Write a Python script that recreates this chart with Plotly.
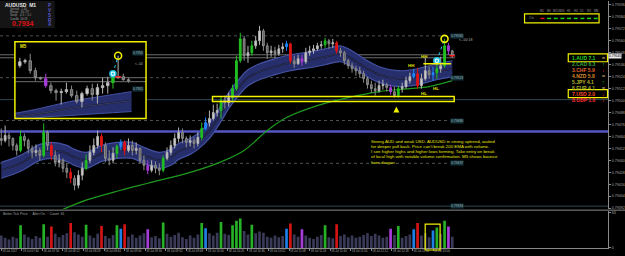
import plotly.graph_objects as go
from datetime import datetime, timedelta

# ======================= DATA =======================
symbol = "AUDUSD"
timeframe = "M1"
bar_start = datetime(2017, 7, 18, 7, 24)
bar_step_min = 3

first_open = 0.79462
close = [
    0.79460, 0.79465, 0.79462, 0.79455, 0.79450, 0.79464, 0.79460, 0.79452, 0.79448, 0.79450,
    0.79445, 0.79468, 0.79455, 0.79445, 0.79438, 0.79440, 0.79432, 0.79428, 0.79422, 0.79415,
    0.79425, 0.79432, 0.79440, 0.79448, 0.79455, 0.79464, 0.79455, 0.79442, 0.79440, 0.79447,
    0.79454, 0.79458, 0.79450, 0.79455, 0.79450, 0.79452, 0.79440, 0.79435, 0.79430, 0.79435,
    0.79432, 0.79430, 0.79442, 0.79448, 0.79455, 0.79462, 0.79468, 0.79462, 0.79458, 0.79460,
    0.79457, 0.79463, 0.79472, 0.79478, 0.79482, 0.79488, 0.79490, 0.79500, 0.79498, 0.79503,
    0.79512, 0.79540, 0.79562, 0.79545, 0.79548, 0.79555, 0.79560, 0.79570, 0.79555, 0.79548,
    0.79550, 0.79547, 0.79552, 0.79554, 0.79557, 0.79540, 0.79537, 0.79542, 0.79539, 0.79548,
    0.79550, 0.79552, 0.79555, 0.79556, 0.79560, 0.79557, 0.79558, 0.79550, 0.79548, 0.79540,
    0.79535, 0.79532, 0.79530, 0.79527, 0.79522, 0.79516, 0.79512, 0.79510, 0.79515, 0.79516,
    0.79513, 0.79509, 0.79505, 0.79512, 0.79514, 0.79520, 0.79524, 0.79527, 0.79515, 0.79522,
    0.79530, 0.79526, 0.79528, 0.79532, 0.79535, 0.79555, 0.79550, 0.79545]
high = [
    0.79472, 0.79475, 0.79468, 0.79463, 0.79457, 0.79470, 0.79467, 0.79462, 0.79455, 0.79456,
    0.79453, 0.79477, 0.79470, 0.79458, 0.79450, 0.79446, 0.79442, 0.79437, 0.79432, 0.79425,
    0.79430, 0.79438, 0.79446, 0.79455, 0.79462, 0.79470, 0.79467, 0.79458, 0.79450, 0.79453,
    0.79456, 0.79461, 0.79460, 0.79462, 0.79460, 0.79458, 0.79453, 0.79445, 0.79440, 0.79440,
    0.79439, 0.79437, 0.79445, 0.79453, 0.79460, 0.79467, 0.79473, 0.79472, 0.79464, 0.79465,
    0.79463, 0.79468, 0.79478, 0.79483, 0.79490, 0.79496, 0.79497, 0.79504, 0.79505, 0.79508,
    0.79516, 0.79545, 0.79568, 0.79565, 0.79555, 0.79560, 0.79565, 0.79575, 0.79572, 0.79558,
    0.79555, 0.79554, 0.79556, 0.79558, 0.79560, 0.79558, 0.79545, 0.79546, 0.79546, 0.79553,
    0.79555, 0.79556, 0.79558, 0.79560, 0.79563, 0.79562, 0.79562, 0.79560, 0.79553, 0.79550,
    0.79542, 0.79538, 0.79535, 0.79534, 0.79530, 0.79524, 0.79520, 0.79518, 0.79520, 0.79521,
    0.79518, 0.79516, 0.79514, 0.79515, 0.79518, 0.79524, 0.79528, 0.79532, 0.79533, 0.79527,
    0.79543, 0.79534, 0.79534, 0.79540, 0.79544, 0.79562, 0.79558, 0.79551]
low = [
    0.79455, 0.79458, 0.79454, 0.79450, 0.79445, 0.79448, 0.79454, 0.79447, 0.79442, 0.79444,
    0.79440, 0.79443, 0.79450, 0.79440, 0.79434, 0.79433, 0.79428, 0.79422, 0.79417, 0.79410,
    0.79412, 0.79420, 0.79430, 0.79437, 0.79445, 0.79452, 0.79448, 0.79438, 0.79435, 0.79437,
    0.79442, 0.79450, 0.79445, 0.79448, 0.79445, 0.79446, 0.79437, 0.79430, 0.79426, 0.79428,
    0.79427, 0.79425, 0.79428, 0.79440, 0.79445, 0.79452, 0.79458, 0.79457, 0.79453, 0.79454,
    0.79452, 0.79454, 0.79460, 0.79470, 0.79474, 0.79480, 0.79484, 0.79482, 0.79492, 0.79494,
    0.79500, 0.79510, 0.79538, 0.79540, 0.79538, 0.79545, 0.79552, 0.79556, 0.79550, 0.79542,
    0.79544, 0.79543, 0.79545, 0.79548, 0.79550, 0.79537, 0.79533, 0.79536, 0.79535, 0.79537,
    0.79545, 0.79547, 0.79550, 0.79552, 0.79553, 0.79552, 0.79553, 0.79547, 0.79544, 0.79536,
    0.79532, 0.79528, 0.79525, 0.79523, 0.79518, 0.79512, 0.79508, 0.79505, 0.79508, 0.79511,
    0.79509, 0.79506, 0.79503, 0.79503, 0.79508, 0.79512, 0.79517, 0.79522, 0.79512, 0.79512,
    0.79520, 0.79522, 0.79520, 0.79522, 0.79528, 0.79533, 0.79546, 0.79543]
# PVSRA class of each bar: n normal, g bull climax, r bear climax, b bull rising, m bear rising
bar_type = list("nnnnngnnnn" "ngnrnnnnrn" "nngnnnrnnn" "gbrnnnnnmn" "nngnnnnnnn"
                "nngbnnngnn" "gggnngnnnn" "nnnnbrnnmn" "nnnngnnrnn" "nnnnnnnnnn"
                "nmngnnnbrn" "nnbgngmn")
volume = [
    22, 18, 15, 20, 17, 40, 24, 19, 16, 21,
    18, 42, 20, 38, 25, 19, 23, 26, 44, 28,
    24, 20, 41, 22, 18, 25, 39, 21, 17, 23,
    40, 34, 42, 20, 24, 18, 22, 26, 33, 19,
    21, 17, 45, 25, 20, 23, 27, 19, 16, 22,
    18, 24, 44, 35, 26, 22, 27, 46, 25, 23,
    40, 48, 52, 30, 24, 41, 26, 29, 27, 20,
    18, 22, 19, 21, 34, 43, 24, 20, 33, 22,
    18, 16, 20, 23, 40, 19, 17, 42, 21, 24,
    19, 22, 18, 20, 23, 26, 21, 25, 22, 18,
    20, 34, 23, 39, 18, 21, 24, 33, 44, 22,
    26, 19, 31, 36, 25, 48, 38, 20]

dragon_bar = [0, 5, 10, 13, 17, 19, 22, 26, 30, 34, 37, 41, 44, 46, 49, 51, 54, 57, 59, 62,
              64, 67, 71, 75, 80, 84, 88, 90, 93, 95, 98, 103, 108, 111, 113, 117]
dragon_high = [0.79438, 0.79445, 0.79456, 0.79458, 0.79455, 0.79451, 0.79448, 0.79455, 0.79458, 0.79458,
               0.79453, 0.79448, 0.79451, 0.79457, 0.79462, 0.79467, 0.79478, 0.79495, 0.79508, 0.79523,
               0.79531, 0.79537, 0.79542, 0.79546, 0.79549, 0.79552, 0.79555, 0.79552, 0.79545, 0.79540,
               0.79534, 0.79530, 0.79532, 0.79535, 0.79537, 0.79540]
dragon_mid = [0.79430, 0.79437, 0.79448, 0.79450, 0.79447, 0.79443, 0.79440, 0.79447, 0.79450, 0.79450,
              0.79445, 0.79440, 0.79443, 0.79449, 0.79454, 0.79459, 0.79470, 0.79487, 0.79500, 0.79515,
              0.79523, 0.79529, 0.79534, 0.79538, 0.79541, 0.79544, 0.79547, 0.79544, 0.79537, 0.79532,
              0.79526, 0.79522, 0.79524, 0.79527, 0.79529, 0.79532]
dragon_low = [0.79422, 0.79429, 0.79440, 0.79442, 0.79439, 0.79435, 0.79432, 0.79439, 0.79442, 0.79442,
              0.79437, 0.79432, 0.79435, 0.79441, 0.79446, 0.79451, 0.79462, 0.79479, 0.79492, 0.79507,
              0.79515, 0.79521, 0.79526, 0.79530, 0.79533, 0.79536, 0.79539, 0.79536, 0.79529, 0.79524,
              0.79518, 0.79514, 0.79516, 0.79519, 0.79521, 0.79524]

ema_bar = [15, 22, 31, 38, 49, 56, 63, 69, 74, 82, 90, 98, 106, 111, 117]
ema200 = [0.79389, 0.79400, 0.79410, 0.79417, 0.79428, 0.79437, 0.79450, 0.79470,
          0.79483, 0.79495, 0.79503, 0.79509, 0.79512, 0.79514, 0.79520]

sr_levels = [0.79565, 0.79523, 0.79480, 0.79437]
bottom_level = 0.79394
zone_level = 0.79501
zone_top, zone_bottom = 0.79504, 0.79499
round_level = 0.79469
swing_levels = [0.79546, 0.79543]
break_level = 0.79537

entry_bar, entry_price = 113, 0.79540
peak_bar, peak_price = 115, 0.79562
signal_bar, signal_price = 102.5, 0.79494
structure_text = ["HH", "HH", "HL", "HL"]
structure_bar = [109.7, 106.4, 109.7, 112.8]
structure_price = [0.79544, 0.79535, 0.79507, 0.79512]

time_labels = ["18 Jul 2017", "18 Jul 07:40", "18 Jul 07:56", "18 Jul 08:12", "18 Jul 08:28",
               "18 Jul 08:44", "18 Jul 09:00", "18 Jul 09:16", "18 Jul 09:32", "18 Jul 09:48",
               "18 Jul 10:04", "18 Jul 10:20", "18 Jul 10:36", "18 Jul 10:52", "18 Jul 11:08",
               "18 Jul 11:24", "18 Jul 11:40", "18 Jul 11:56", "18 Jul 12:12", "18 Jul 12:28",
               "18 Jul 12:44", "18 Jul 13:00"]

# M5 inset
inset_first_open = 0.79535
inset_close = [0.79539, 0.79540, 0.79530, 0.79523, 0.79522, 0.79515, 0.79510, 0.79508, 0.79509, 0.79511,
               0.79505, 0.79499, 0.79507, 0.79512, 0.79506, 0.79513, 0.79515, 0.79518, 0.79523, 0.79524,
               0.79521, 0.79520]
inset_high = [0.79543, 0.79542, 0.79547, 0.79533, 0.79524, 0.79527, 0.79518, 0.79512, 0.79512, 0.79518,
              0.79515, 0.79510, 0.79509, 0.79515, 0.79517, 0.79517, 0.79523, 0.79524, 0.79527, 0.79545,
              0.79527, 0.79523]
inset_low = [0.79533, 0.79537, 0.79527, 0.79520, 0.79521, 0.79513, 0.79507, 0.79500, 0.79496, 0.79507,
             0.79503, 0.79497, 0.79493, 0.79505, 0.79500, 0.79497, 0.79507, 0.79507, 0.79512, 0.79522,
             0.79520, 0.79518]
inset_type = list("nnnnnmnnnnnnnnnnnngnnn")
inset_band_x = [-1.2, 3.8, 9.6, 15.4, 21.6]
inset_band_high = [0.79487, 0.79492, 0.79499, 0.79504, 0.79509]
inset_band_mid = [0.79484, 0.79487, 0.79492, 0.79496, 0.79500]
inset_band_low = [0.79478, 0.79483, 0.79485, 0.79487, 0.79489]
inset_levels = [0.79523, 0.79519]
inset_entry = (18, 0.79527)
inset_peak = (19, 0.79545)

strength_ccy = ["AUD", "CAD", "CHF", "NZD", "JPY", "EUR", "USD", "GBP"]
strength_val = [7.1, 6.3, 5.9, 5.8, 4.1, 4.1, 2.0, 1.0]
strength_dir = ["flat", "up", "down", "flat", "up", "flat", "down", "down"]
strength_col = ["#27d427", "#3aa83a", "#e0662a", "#d98a2a", "#b8b82a", "#a9b02e", "#ff4a2a", "#ff2a2a"]
tf_names = ["M1", "M5", "M15", "M30", "H1", "H4", "D1", "W1", "MN"]
tf_signal = ["down", "up", "up", "up", "up", "up", "up", "up", "up"]

text_block = ["Strong AUD and weak USD. AUDUSD in strong uptrend, waited",
              "for deeper pull back. Price can't break 200 EMA with volume.",
              "I see higher highs and higher lows forming. Take entry on break",
              "of local high with notable volume confirmation. M5 shows bounce",
              "from dragon."]

# ======================= FIGURE =======================
FONT = "Liberation Sans"
W, H = 625, 256
MR, MB = 13, 8
PW, PH = W - MR, H - MB


def t(i):
    return bar_start + timedelta(minutes=bar_step_min * i)


def px(xp):
    return xp / PW


def py(yp):
    return 1 - yp / PH


bar_time = [t(i) for i in range(len(close))]
open_ = [first_open] + close[:-1]
x_range = [t(-1 / 3), t(157.4)]
y_range = [0.79391, 0.79600]

fig = go.Figure()

# ---- base layer (x, y): dragon band + EMA ----
dx = [t(i) for i in dragon_bar]
fig.add_trace(go.Scatter(x=dx, y=dragon_high, mode="lines", line=dict(color="#4452a4", width=1.2, shape="spline"),
                         xaxis="x", yaxis="y", hoverinfo="skip"))
fig.add_trace(go.Scatter(x=dx, y=dragon_low, mode="lines", line=dict(color="#4452a4", width=1.2, shape="spline"),
                         fill="tonexty", fillcolor="#272e6c", xaxis="x", yaxis="y", hoverinfo="skip"))
fig.add_trace(go.Scatter(x=dx, y=dragon_mid, mode="lines", line=dict(color="#0e1128", width=1.6, shape="spline"),
                         xaxis="x", yaxis="y", hoverinfo="skip"))
fig.add_trace(go.Scatter(x=dx, y=dragon_mid, mode="lines", line=dict(color="#6a70a0", width=0.4, shape="spline"),
                         xaxis="x", yaxis="y", hoverinfo="skip"))
fig.add_trace(go.Scatter(x=[t(i) for i in ema_bar], y=ema200, mode="lines",
                         line=dict(color="#1f9a1f", width=1.2, shape="spline"), xaxis="x", yaxis="y", hoverinfo="skip"))

# ---- overlay layer (x, y4): candles + signals ----
styles = {
    "n": ("#d6d6d6", "#b4b4b4", "#5a5a5a", "#8c8c8c"),
    "g": ("#22c022", "#22c022", "#22c022", "#22c022"),
    "r": ("#e01414", "#e01414", "#e01414", "#e01414"),
    "b": ("#1f86ff", "#1f86ff", "#1f86ff", "#1f86ff"),
    "m": ("#a83cd8", "#a83cd8", "#a83cd8", "#a83cd8"),
}


def masked(vals, types, code):
    return [v if tp == code else None for v, tp in zip(vals, types)]


for code, (ifill, iline, dfill, dline) in styles.items():
    fig.add_trace(go.Candlestick(
        x=bar_time, open=masked(open_, bar_type, code), high=masked(high, bar_type, code),
        low=masked(low, bar_type, code), close=masked(close, bar_type, code),
        increasing=dict(fillcolor=ifill, line=dict(color=iline, width=1)),
        decreasing=dict(fillcolor=dfill, line=dict(color=dline, width=1)),
        whiskerwidth=0, xaxis="x", yaxis="y4", hoverinfo="skip"))

fig.add_trace(go.Scatter(x=[t(entry_bar), t(peak_bar)], y=[entry_price, peak_price], mode="lines",
                         line=dict(color="#22c8e8", width=1, dash="dot"), xaxis="x", yaxis="y4"))
fig.add_trace(go.Scatter(x=[t(entry_bar)], y=[entry_price], mode="markers",
                         marker=dict(symbol="circle-dot", size=6, color="white", line=dict(color="#22c8e8", width=1.5)),
                         xaxis="x", yaxis="y4"))
fig.add_trace(go.Scatter(x=[t(peak_bar)], y=[peak_price], mode="markers",
                         marker=dict(symbol="circle-open", size=7, color="#f0f000", line=dict(width=1.6)),
                         xaxis="x", yaxis="y4"))
fig.add_trace(go.Scatter(x=[t(signal_bar)], y=[signal_price], mode="markers",
                         marker=dict(symbol="arrow-up", size=6, color="#f0f000"), xaxis="x", yaxis="y4"))
fig.add_trace(go.Scatter(x=[bar_time[-1]], y=[close[-1]], mode="markers",
                         marker=dict(symbol="line-ew", size=4, line=dict(color="#ff2020", width=1.5)),
                         xaxis="x", yaxis="y4"))

# ---- volume ----
vol_col = {"n": "#3a3957", "g": "#25b025", "r": "#d41414", "b": "#1e7fe6", "m": "#a83cd8"}
fig.add_trace(go.Bar(x=bar_time, y=volume, marker=dict(color=[vol_col[c] for c in bar_type], line=dict(width=0)),
                     xaxis="x2", yaxis="y2", hoverinfo="skip"))

# ---- M5 inset (x3, y3 base; y5 overlay) ----
ix_range = [-0.96, 24.4]
iy_range = [0.79482, 0.79559]
fig.add_trace(go.Bar(x=[(ix_range[0] + ix_range[1]) / 2], y=[iy_range[1] - iy_range[0] + 0.0001],
                     base=[iy_range[0] - 0.00005], width=[ix_range[1] - ix_range[0] + 1],
                     marker=dict(color="black", line=dict(width=0)), xaxis="x3", yaxis="y3", hoverinfo="skip"))
for lv in inset_levels:
    fig.add_trace(go.Scatter(x=ix_range, y=[lv, lv], mode="lines", line=dict(color="#6e6e6e", width=1),
                             xaxis="x3", yaxis="y3", hoverinfo="skip"))
fig.add_trace(go.Scatter(x=inset_band_x, y=inset_band_high, mode="lines", line=dict(color="#4452a4", width=1, shape="spline"),
                         xaxis="x3", yaxis="y3"))
fig.add_trace(go.Scatter(x=inset_band_x, y=inset_band_low, mode="lines", line=dict(color="#4452a4", width=1, shape="spline"),
                         fill="tonexty", fillcolor="#272e6c", xaxis="x3", yaxis="y3"))
fig.add_trace(go.Scatter(x=inset_band_x, y=inset_band_mid, mode="lines", line=dict(color="#0e1128", width=1.5, shape="spline"),
                         xaxis="x3", yaxis="y3"))
fig.add_trace(go.Scatter(x=inset_band_x, y=inset_band_mid, mode="lines", line=dict(color="#8088b0", width=0.4, shape="spline"),
                         xaxis="x3", yaxis="y3"))
ix = list(range(len(inset_close)))
inset_open = [inset_first_open] + inset_close[:-1]
for code, (ifill, iline, dfill, dline) in styles.items():
    if code not in inset_type:
        continue
    fig.add_trace(go.Candlestick(
        x=ix, open=masked(inset_open, inset_type, code), high=masked(inset_high, inset_type, code),
        low=masked(inset_low, inset_type, code), close=masked(inset_close, inset_type, code),
        increasing=dict(fillcolor=ifill, line=dict(color=iline, width=1)),
        decreasing=dict(fillcolor=dfill, line=dict(color=dline, width=1)),
        whiskerwidth=0, xaxis="x3", yaxis="y5", hoverinfo="skip"))
fig.add_trace(go.Scatter(x=[inset_entry[0], inset_peak[0]], y=[inset_entry[1], inset_peak[1]], mode="lines",
                         line=dict(color="#22c8e8", width=1, dash="dot"), xaxis="x3", yaxis="y5"))
fig.add_trace(go.Scatter(x=[inset_entry[0]], y=[inset_entry[1]], mode="markers",
                         marker=dict(symbol="circle-dot", size=6, color="white", line=dict(color="#22c8e8", width=1.5)),
                         xaxis="x3", yaxis="y5"))
fig.add_trace(go.Scatter(x=[inset_peak[0]], y=[inset_peak[1]], mode="markers",
                         marker=dict(symbol="circle-open", size=7, color="#f0f000", line=dict(width=1.6)),
                         xaxis="x3", yaxis="y5"))
fig.add_trace(go.Scatter(x=[inset_peak[0]], y=[inset_close[inset_peak[0]]], mode="markers",
                         marker=dict(symbol="line-ew", size=4, line=dict(color="#ff2020", width=1.5)),
                         xaxis="x3", yaxis="y5"))

# ---------- shapes ----------
shapes = []
x_lab = t((453 / PW * (157.4 + 1 / 3)) - 1 / 3)  # start of level label boxes
for lv in sr_levels:
    shapes.append(dict(type="line", xref="x", yref="y", x0=x_range[0], x1=x_lab, y0=lv, y1=lv,
                       line=dict(color="#4a5257", width=1, dash="dot"), layer="below"))
shapes.append(dict(type="line", xref="paper", yref="y", x0=0, x1=1, y0=bottom_level, y1=bottom_level,
                   line=dict(color="#2c4653", width=1), layer="below"))
shapes.append(dict(type="line", xref="paper", yref="y", x0=0, x1=1, y0=zone_level, y1=zone_level,
                   line=dict(color="#2c4653", width=1), layer="below"))
shapes.append(dict(type="line", xref="paper", yref="y", x0=0, x1=1, y0=round_level, y1=round_level,
                   line=dict(color="#5656c4", width=2.4), layer="below"))
for lv in swing_levels:
    shapes.append(dict(type="line", xref="x", yref="y", x0=x_range[0], x1=t(117.7), y0=lv, y1=lv,
                       line=dict(color="#6c6c6c", width=1), layer="below"))
shapes.append(dict(type="rect", xref="x", yref="y", x0=t(54.8), x1=t(117.5), y0=zone_bottom, y1=zone_top,
                   line=dict(color="#f2f200", width=1.5)))
shapes.append(dict(type="line", xref="x", yref="y", x0=t(109.5), x1=t(116.7), y0=break_level, y1=break_level,
                   line=dict(color="#f2f200", width=1.5)))
shapes.append(dict(type="line", xref="paper", yref="paper", x0=0, x1=1.03, y0=py(210), y1=py(210),
                   line=dict(color="#8a8a8a", width=1)))
shapes.append(dict(type="rect", xref="paper", yref="paper", x0=px(15), x1=px(147), y0=py(118), y1=py(41),
                   line=dict(color="#f2f200", width=1.5)))
shapes.append(dict(type="rect", xref="paper", yref="paper", x0=px(428), x1=px(443), y0=py(250), y1=py(224),
                   line=dict(color="#f2f200", width=1.2)))
shapes.append(dict(type="rect", xref="paper", yref="paper", x0=0, x1=px(55), y0=py(27), y1=1,
                   fillcolor="#151515", line=dict(width=0), layer="below"))
for row in (0, 6):
    yc = 57 + 6 * row
    shapes.append(dict(type="rect", xref="paper", yref="paper", x0=px(572), x1=px(611.5),
                       y0=py(yc + 4), y1=py(yc - 4), line=dict(color="#f2f200", width=1.2)))
shapes.append(dict(type="rect", xref="paper", yref="paper", x0=px(528), x1=px(603), y0=py(22), y1=py(13),
                   line=dict(color="#f2f200", width=1.2)))
for k, sig in enumerate(tf_signal):
    x0 = 544 + 6.7 * k
    shapes.append(dict(type="line", xref="paper", yref="paper", x0=px(x0), x1=px(x0 + 4), y0=py(17.5), y1=py(17.5),
                       line=dict(color="#e01010" if sig == "down" else "#18d018", width=1.5)))

# ---------- annotations ----------
ann = []


def note(xp, yp, text, size=3.6, color="#a0a0a0", xanchor="left", yanchor="middle", bg=None, bold=False):
    d = dict(x=px(xp), y=py(yp), xref="paper", yref="paper", text=("<b>%s</b>" % text) if bold else text,
             showarrow=False, xanchor=xanchor, yanchor=yanchor, borderpad=0,
             font=dict(size=size, color=color, family=FONT))
    if bg:
        d["bgcolor"] = bg
    ann.append(d)


note(4, 4, "%s  %s" % (symbol, timeframe), size=5, color="#e8e8e8", bold=True)
for k, line in enumerate(["Spread   1.40", "Range   36 / 87", "Swap   -0.3 / -0.1", "Candle  00:18"]):
    note(9, 8 + 3.2 * k, line, size=2.8, color="#9a9a9a")
note(11, 23, "0.7934", size=7, color="#e01010", bold=True)
for k, ch in enumerate("PVSRA"):
    note(50, 5 + 4.7 * k, ch, size=4.5, color="#5b5bd6", xanchor="center", bold=True)

for lv in sr_levels + [bottom_level]:
    ann.append(dict(x=x_lab, y=lv, xref="x", yref="y", text="%.5f" % lv, showarrow=False, xanchor="left",
                    yanchor="middle", bgcolor="#14323a", borderpad=0,
                    font=dict(size=3.4, color="#9fb4b8", family=FONT)))
note(461, 39, "&lt;--00:18", size=3.6, color="#b0b0b0")

for txt, b, p in zip(structure_text, structure_bar, structure_price):
    ann.append(dict(x=t(b), y=p, xref="x", yref="y", text="<b>%s</b>" % txt, showarrow=False,
                    font=dict(size=4.4, color="#e8e800", family=FONT)))

for k, line in enumerate(text_block):
    note(372, 141 + 5.2 * k, line, size=4.4, color="#e6e600")

note(19, 46, "M5", size=4.5, color="#e8e800", bold=True)
note(133, 52, "0.7955", size=3.2, color="#9fb4b8", bg="#14323a")
note(133, 88, "0.7951", size=3.2, color="#9fb4b8", bg="#14323a")
note(135, 63, "&lt;--04", size=3.2, color="#b0b0b0")

arrow_txt = {"up": "\u2191", "down": "\u2193", "flat": "\u2248"}
arrow_col = {"up": "#20d020", "down": "#ff2020", "flat": "#c8b070"}
for k, (c, v, d, col) in enumerate(zip(strength_ccy, strength_val, strength_dir, strength_col)):
    yc = 57 + 6 * k
    note(575, yc, "%d.%s %.1f" % (k + 1, c, v), size=5, color=col, bold=True)
    note(607, yc, arrow_txt[d], size=5.5, color=arrow_col[d], xanchor="center", bold=True)

for k, name in enumerate(tf_names):
    note(546 + 6.7 * k, 10.5, name, size=2.8, color="#9a9a9a", xanchor="center")
note(531, 17.5, "Crit", size=3, color="#9a9a9a")

ann.append(dict(x=1.0, y=close[-1], xref="paper", yref="y", text="%.5f" % close[-1], showarrow=False,
                xanchor="left", yanchor="middle", bgcolor="#e8e8e8", borderpad=0,
                font=dict(size=3.4, color="#000000", family=FONT)))

note(2, 214, "Better Tick Price  \u00b7  Alert On  \u00b7  Count: 61", size=3.4, color="#a0a0a0")

# ---------- layout ----------
tick_times = [bar_time[0]] + [datetime.strptime("2017-07-18 " + s.split(" ")[-1], "%Y-%m-%d %H:%M")
                              for s in time_labels[1:]]
axfont = dict(size=3.6, color="#a9a9a9", family=FONT)
fig.update_layout(
    width=W, height=H, margin=dict(l=0, r=MR, t=0, b=MB),
    paper_bgcolor="black", plot_bgcolor="black", showlegend=False,
    boxmode="overlay", boxgap=0.35, bargap=0.3,
    shapes=shapes, annotations=ann,
    xaxis=dict(domain=[0, 1], anchor="y", range=x_range, showticklabels=False, showgrid=False,
               zeroline=False, rangeslider=dict(visible=False), showline=False, ticks=""),
    yaxis=dict(domain=[py(209), 1], anchor="x", side="right", range=y_range, tick0=0.79596, dtick=0.00012,
               tickformat=".5f", showgrid=False, zeroline=False, showline=True, linecolor="#8a8a8a",
               linewidth=1, ticks="outside", ticklen=2, tickcolor="#8a8a8a", tickfont=axfont),
    yaxis4=dict(overlaying="y", anchor="x", side="right", range=y_range, visible=False, showgrid=False,
                zeroline=False),
    xaxis2=dict(domain=[0, 1], anchor="y2", range=x_range, tickvals=tick_times, ticktext=time_labels,
                tickangle=0, ticklabelposition="outside right", showgrid=False, zeroline=False, showline=True,
                linecolor="#8a8a8a", ticks="outside", ticklen=2, tickcolor="#8a8a8a",
                tickfont=dict(size=2.9, color="#a9a9a9", family=FONT)),
    yaxis2=dict(domain=[0, 37 / PH], anchor="x2", side="right", range=[0, 65], tickvals=[0, 63],
                showgrid=False, zeroline=False, showline=True, linecolor="#8a8a8a", ticks="outside",
                ticklen=2, tickcolor="#8a8a8a", tickfont=axfont),
    xaxis3=dict(domain=[px(15), px(147)], anchor="y3", range=ix_range, visible=False,
                rangeslider=dict(visible=False)),
    yaxis3=dict(domain=[py(118), py(41)], anchor="x3", range=iy_range, visible=False),
    yaxis5=dict(overlaying="y3", anchor="x3", range=iy_range, visible=False),
)

fig.write_html("out.html")
